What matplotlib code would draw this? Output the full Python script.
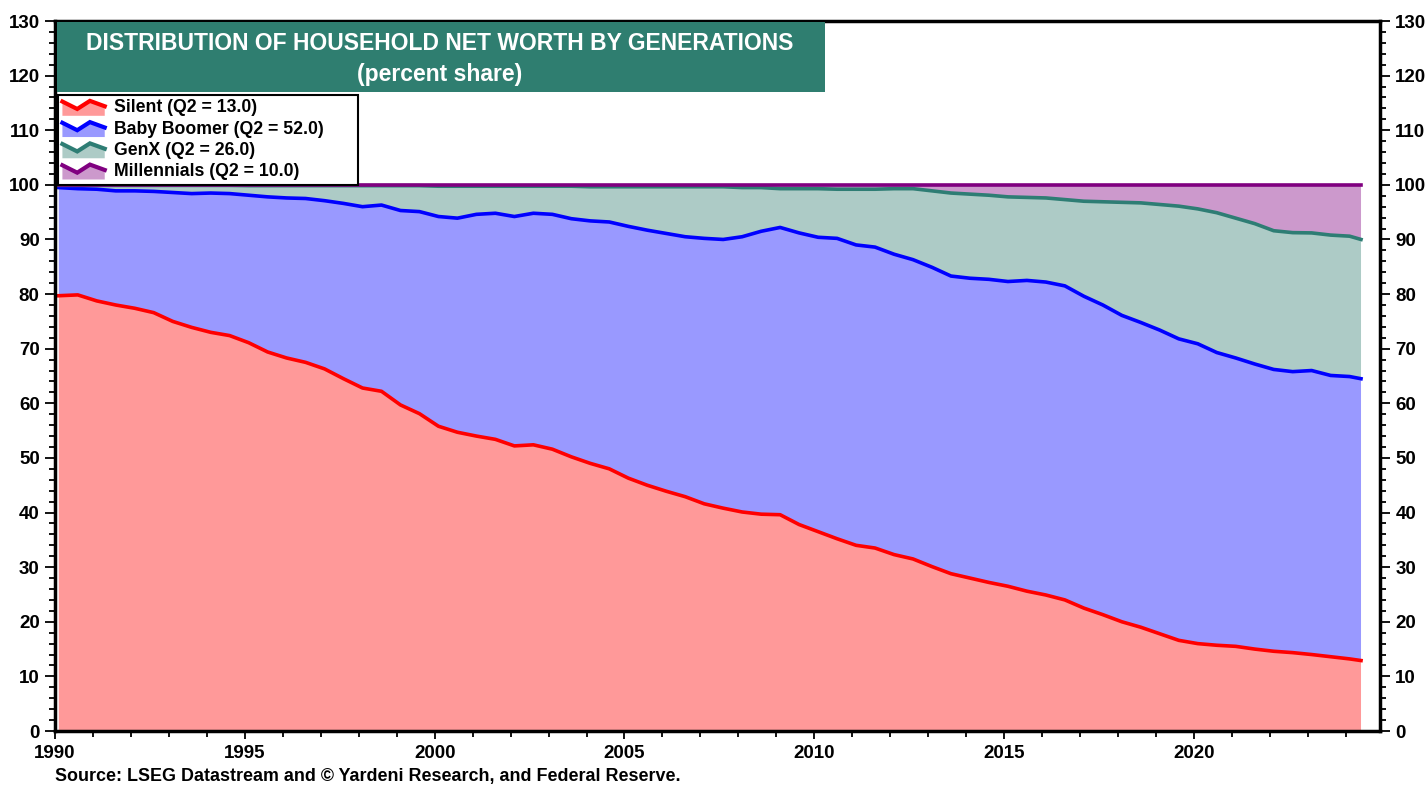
import numpy as np
import matplotlib
matplotlib.use("Agg")
import matplotlib.pyplot as plt
from matplotlib.patches import Patch, Polygon, Rectangle
from matplotlib.lines import Line2D
from matplotlib.legend_handler import HandlerBase
from matplotlib.ticker import MultipleLocator

plt.rcParams['font.family'] = ['Liberation Sans', 'DejaVu Sans']
plt.rcParams['font.weight'] = 'bold'

# half-yearly readings (decimal year), last point is 2024 Q2
dates = [1990.1, 1990.6, 1991.1, 1991.6, 1992.1, 1992.6, 1993.1, 1993.6, 1994.1, 1994.6,
         1995.1, 1995.6, 1996.1, 1996.6, 1997.1, 1997.6, 1998.1, 1998.6, 1999.1, 1999.6,
         2000.1, 2000.6, 2001.1, 2001.6, 2002.1, 2002.6, 2003.1, 2003.6, 2004.1, 2004.6,
         2005.1, 2005.6, 2006.1, 2006.6, 2007.1, 2007.6, 2008.1, 2008.6, 2009.1, 2009.6,
         2010.1, 2010.6, 2011.1, 2011.6, 2012.1, 2012.6, 2013.1, 2013.6, 2014.1, 2014.6,
         2015.1, 2015.6, 2016.1, 2016.6, 2017.1, 2017.6, 2018.1, 2018.6, 2019.1, 2019.6,
         2020.1, 2020.6, 2021.1, 2021.6, 2022.1, 2022.6, 2023.1, 2023.6, 2024.1, 2024.4]

silent = [79.7, 79.85, 78.75, 78.0, 77.4, 76.6, 75.0, 73.9, 73.0, 72.4,
          71.1, 69.4, 68.3, 67.5, 66.3, 64.5, 62.8, 62.2, 59.7, 58.1,
          55.8, 54.7, 54.0, 53.4, 52.2, 52.4, 51.6, 50.2, 49.0, 48.0,
          46.3, 45.0, 43.9, 42.9, 41.6, 40.8, 40.1, 39.7, 39.6, 37.8,
          36.5, 35.2, 34.0, 33.5, 32.3, 31.5, 30.1, 28.8, 28.0, 27.2,
          26.5, 25.6, 24.9, 24.0, 22.5, 21.3, 20.0, 19.0, 17.8, 16.6,
          16.0, 15.7, 15.5, 15.0, 14.6, 14.35, 14.0, 13.6, 13.2, 12.9]

boomer = [19.8, 19.45, 20.45, 20.9, 21.5, 22.2, 23.6, 24.5, 25.5, 26.0,
          27.0, 28.4, 29.3, 30.0, 30.8, 32.1, 33.2, 34.1, 35.6, 37.0,
          38.4, 39.2, 40.6, 41.4, 42.0, 42.4, 43.0, 43.6, 44.4, 45.2,
          46.1, 46.7, 47.2, 47.6, 48.6, 49.2, 50.4, 51.8, 52.6, 53.4,
          53.9, 55.0, 55.0, 55.1, 55.0, 54.8, 54.8, 54.5, 54.9, 55.5,
          55.8, 56.9, 57.3, 57.5, 57.1, 56.7, 56.1, 55.8, 55.6, 55.2,
          54.9, 53.6, 52.8, 52.2, 51.6, 51.45, 52.0, 51.5, 51.7, 51.6]

genx = [0.4, 0.6, 0.7, 1.0, 1.0, 1.1, 1.3, 1.5, 1.4, 1.5,
        1.75, 2.05, 2.25, 2.35, 2.75, 3.25, 3.85, 3.55, 4.55, 4.75,
        5.55, 5.85, 5.15, 4.95, 5.55, 4.95, 5.15, 5.95, 6.25, 6.45,
        7.25, 7.95, 8.55, 9.15, 9.45, 9.65, 9.0, 8.0, 7.1, 8.1,
        8.9, 9.0, 10.2, 10.6, 12.0, 13.0, 14.0, 15.2, 15.4, 15.4,
        15.5, 15.2, 15.4, 15.8, 17.4, 18.9, 20.7, 21.9, 23.0, 24.3,
        24.7, 25.6, 25.6, 25.7, 25.4, 25.45, 25.2, 25.7, 25.7, 25.5]

millennials = [0.1, 0.1, 0.1, 0.1, 0.1, 0.1, 0.1, 0.1, 0.1, 0.1,
               0.15, 0.15, 0.15, 0.15, 0.15, 0.15, 0.15, 0.15, 0.15, 0.15,
               0.25, 0.25, 0.25, 0.25, 0.25, 0.25, 0.25, 0.25, 0.35, 0.35,
               0.35, 0.35, 0.35, 0.35, 0.35, 0.35, 0.5, 0.5, 0.7, 0.7,
               0.7, 0.8, 0.8, 0.8, 0.7, 0.7, 1.1, 1.5, 1.7, 1.9,
               2.2, 2.3, 2.4, 2.7, 3.0, 3.1, 3.2, 3.3, 3.6, 3.9,
               4.4, 5.1, 6.1, 7.1, 8.4, 8.75, 8.8, 9.2, 9.4, 10.0]

labels = ['Silent (Q2 = 13.0)', 'Baby Boomer (Q2 = 52.0)',
          'GenX (Q2 = 26.0)', 'Millennials (Q2 = 10.0)']
fill_colors = ['#FF9999', '#9999FF', '#ADCBC6', '#CC99CC']
line_colors = ['#FF0000', '#0000FF', '#2E7D74', '#800080']


class ZigHandler(HandlerBase):
    # little zigzag line with shaded area below, like the original legend
    def create_artists(self, legend, orig_handle, xdescent, ydescent,
                       width, height, fontsize, trans):
        xs = np.array([0, 0.35, 0.65, 1.0]) * width - xdescent
        ys = np.array([0.85, 0.3, 0.9, 0.5]) * height - ydescent
        pts = list(zip(xs, ys)) + [(xs[-1], -ydescent - 2), (xs[0], -ydescent - 2)]
        poly = Polygon(pts, closed=True, facecolor=orig_handle.get_facecolor(),
                       edgecolor='none', transform=trans)
        line = Line2D(xs, ys, color=orig_handle.get_edgecolor(), lw=3,
                      solid_joinstyle='miter', transform=trans)
        return [poly, line]


fig = plt.figure(figsize=(14.28, 7.89), dpi=100)
ax = fig.add_axes([55 / 1428, 1 - 731 / 789, (1380 - 55) / 1428, (731 - 21) / 789])

series = [silent, boomer, genx, millennials]
ax.stackplot(dates, *series, colors=fill_colors, lw=0)
tops = np.cumsum(np.array(series), axis=0)
for top, c in zip(tops, line_colors):
    ax.plot(dates, top, color=c, lw=2.6, solid_joinstyle='round')

ax.set_xlim(1990, 2024.9)
ax.set_ylim(0, 130)
ax.set_xticks(range(1990, 2021, 5))
ax.xaxis.set_minor_locator(MultipleLocator(1))
ax.yaxis.set_major_locator(MultipleLocator(10))
ax.yaxis.set_minor_locator(MultipleLocator(2))
ax.tick_params(axis='both', which='both', direction='out', width=1.3,
               labelsize=13.5, colors='black')
ax.tick_params(axis='y', which='both', left=True, right=True,
               labelleft=True, labelright=True)
ax.tick_params(axis='y', which='major', length=7, pad=4)
ax.tick_params(axis='y', which='minor', length=4)
ax.tick_params(axis='x', which='major', length=6, pad=4)
ax.tick_params(axis='x', which='minor', length=4)
for lab in ax.get_xticklabels() + ax.get_yticklabels():
    lab.set_fontweight('bold')
for s in ax.spines.values():
    s.set_linewidth(2.5)

# title box
fig.patches.append(Rectangle((57 / 1428, 1 - 92 / 789), (825 - 57) / 1428, 70 / 789,
                             transform=fig.transFigure, facecolor='#2F7E70',
                             edgecolor='none', zorder=5))
fig.text(440 / 1428, 1 - 43 / 789, 'DISTRIBUTION OF HOUSEHOLD NET WORTH BY GENERATIONS',
         color='white', fontsize=16.5, fontweight='bold', ha='center', va='center', zorder=6)
fig.text(440 / 1428, 1 - 74 / 789, '(percent share)',
         color='white', fontsize=16.5, fontweight='bold', ha='center', va='center', zorder=6)

handles = [Patch(facecolor=f, edgecolor=l) for f, l in zip(fill_colors, line_colors)]
leg = ax.legend(handles, labels, handler_map={Patch: ZigHandler()},
                loc='upper left', mode='expand',
                bbox_to_anchor=(58 / 1428, 1 - 183 / 789, 300 / 1428, 88 / 789),
                bbox_transform=fig.transFigure, borderaxespad=0,
                prop={'weight': 'bold', 'size': 12.7},
                handlelength=2.4, handleheight=0.8, handletextpad=0.5,
                labelspacing=0.24, borderpad=0.25, fancybox=False,
                framealpha=1, edgecolor='black')
leg.get_frame().set_linewidth(1.5)

fig.text(55 / 1428, 1 - 777 / 789,
         'Source: LSEG Datastream and \u00a9 Yardeni Research, and Federal Reserve.',
         fontsize=12.9, fontweight='bold', ha='left', va='center')

fig.savefig('out.png', dpi=100)
